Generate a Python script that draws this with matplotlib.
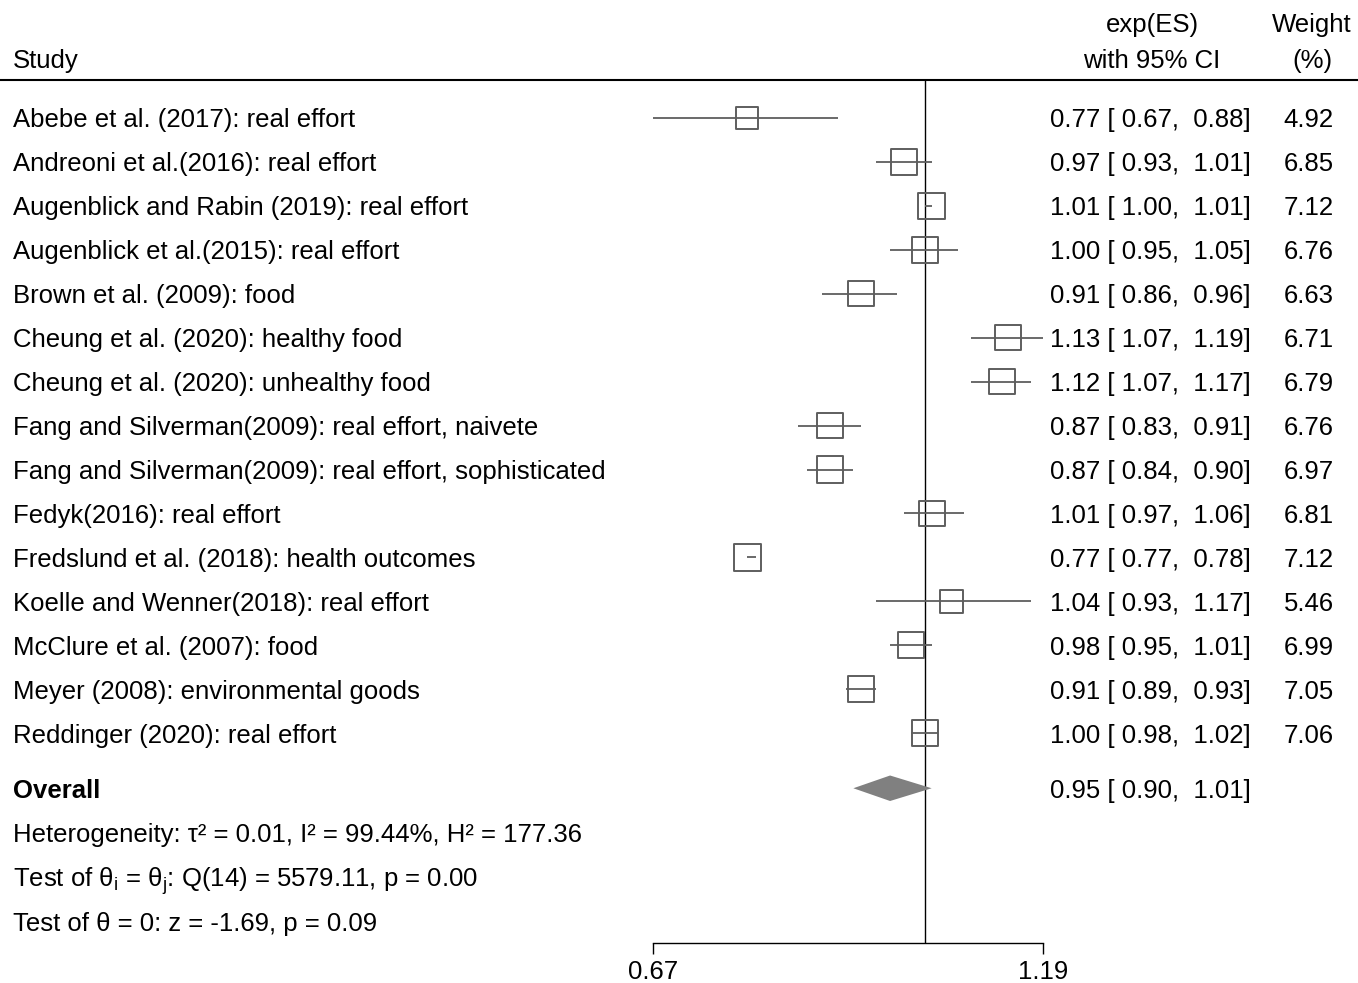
import matplotlib
matplotlib.use('Agg')
import matplotlib.pyplot as plt
import matplotlib.transforms as mtransforms
from matplotlib.lines import Line2D

plt.rcParams['font.family'] = ['Liberation Sans', 'DejaVu Sans']

## Data
studies = ['Abebe et al. (2017): real effort',
           'Andreoni et al.(2016): real effort',
           'Augenblick and Rabin (2019): real effort',
           'Augenblick et al.(2015): real effort',
           'Brown et al. (2009): food',
           'Cheung et al. (2020): healthy food',
           'Cheung et al. (2020): unhealthy food',
           'Fang and Silverman(2009): real effort, naivete',
           'Fang and Silverman(2009): real effort, sophisticated',
           'Fedyk(2016): real effort',
           'Fredslund et al. (2018): health outcomes',
           'Koelle and Wenner(2018): real effort',
           'McClure et al. (2007): food',
           'Meyer (2008): environmental goods',
           'Reddinger (2020): real effort']
es = [0.77, 0.97, 1.01, 1.00, 0.91, 1.13, 1.12, 0.87, 0.87, 1.01, 0.77, 1.04, 0.98, 0.91, 1.00]
lo = [0.67, 0.93, 1.00, 0.95, 0.86, 1.07, 1.07, 0.83, 0.84, 0.97, 0.77, 0.93, 0.95, 0.89, 0.98]
hi = [0.88, 1.01, 1.01, 1.05, 0.96, 1.19, 1.17, 0.91, 0.90, 1.06, 0.78, 1.17, 1.01, 0.93, 1.02]
weights = [4.92, 6.85, 7.12, 6.76, 6.63, 6.71, 6.79, 6.76, 6.97, 6.81, 7.12, 5.46, 6.99, 7.05, 7.06]

overall = [0.95, 0.90, 1.01]
het_text = 'Heterogeneity: τ² = 0.01, I² = 99.44%, H² = 177.36'
q_text = 'Test of θ$_\\mathregular{i}$ = θ$_\\mathregular{j}$: Q(14) = 5579.11, p = 0.00'
z_text = 'Test of θ = 0: z = -1.69, p = 0.09'
xticks = [0.67, 1.19]

W, H = 1358, 983
fig = plt.figure(figsize=(W / 100, H / 100), dpi=100)

## plot area: x from 653 to 1043 px, y from 80 to 943 px
ax = fig.add_axes([653 / W, 40 / H, 390 / W, 863 / H])
ax.set_xscale('log')
ax.set_xlim(0.67, 1.19)
ax.set_ylim(18.77, -0.86)
for s in ['top', 'left', 'right']:
    ax.spines[s].set_visible(False)
ax.spines['bottom'].set_linewidth(1)
ax.set_yticks([])
ax.set_xticks(xticks)
ax.set_xticklabels(['%.2f' % t for t in xticks])
ax.xaxis.set_minor_locator(matplotlib.ticker.NullLocator())
ax.tick_params(axis='x', length=8, width=1, labelsize=18.5, pad=4)

fs = 18.5
fx = mtransforms.blended_transform_factory(fig.transFigure, ax.transData)
bl = 0.216  # baseline offset below row centre

rows = list(range(len(studies)))
edge = '#5e5e5e'

## reference line at 1
ax.axvline(1, color='black', lw=1, zorder=1)

## CI lines and boxes
for i in rows:
    ax.plot([lo[i], hi[i]], [i, i], color=edge, lw=1.3, solid_capstyle='butt', zorder=2)
ax.scatter(es, rows, s=[50.8 * w for w in weights], marker='s', facecolor='none',
           edgecolor=edge, linewidth=1.4, zorder=3)

## overall diamond
oy = 15.25
dh = 0.29
ax.fill([overall[1], overall[0], overall[2], overall[0]],
        [oy, oy - dh, oy, oy + dh], color='#808080', lw=0, zorder=2)

def txt(xpx, y, s, ha='left', **kw):
    fig.text(xpx / W, y + bl, s, transform=fx, fontsize=fs, va='baseline', ha=ha, **kw)

## header
hy1, hy2 = -2.17, -1.35
txt(13, hy2, 'Study')
txt(1152, hy1, 'exp(ES)', ha='center')
txt(1152, hy2, 'with 95% CI', ha='center')
txt(1352, hy1, 'Weight', ha='right')
txt(1312, hy2, '(%)', ha='center')
fig.add_artist(Line2D([0, 1], [1 - 80 / H] * 2, transform=fig.transFigure, color='black', lw=1.5))

## study rows
for i in rows:
    txt(13, i, studies[i])
    txt(1251, i, '%.2f [%5.2f, %5.2f]' % (es[i], lo[i], hi[i]), ha='right')
    txt(1334, i, '%.2f' % weights[i], ha='right')

## overall and stats
txt(13, oy, 'Overall', fontweight='bold')
txt(1251, oy, '%.2f [%5.2f, %5.2f]' % tuple(overall), ha='right')
txt(13, 16.25, het_text)
txt(13, 17.27, q_text)
txt(13, 18.27, z_text)

plt.savefig('out.png', dpi=100)
